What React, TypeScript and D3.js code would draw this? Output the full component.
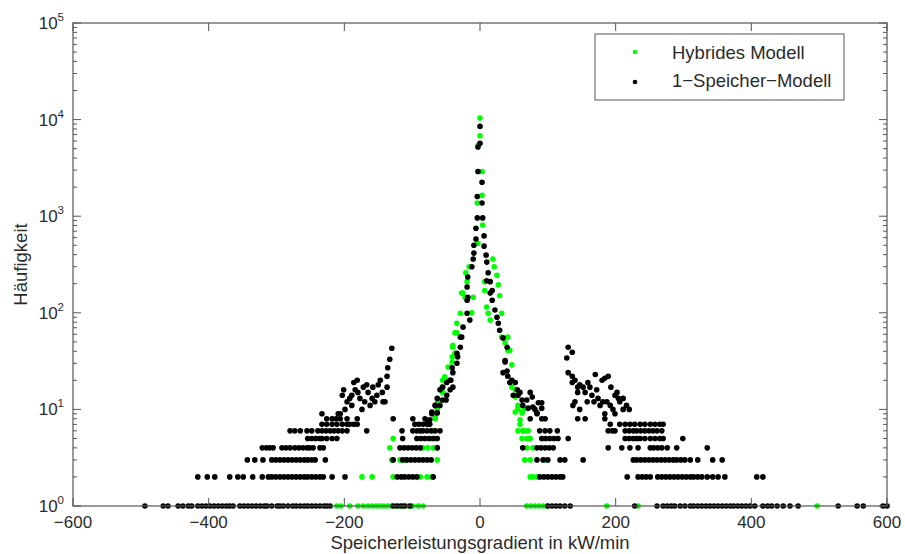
import React from 'react';
import * as d3 from 'd3';

// ---------- axis / legend data ----------
const xTickValues = [-600, -400, -200, 0, 200, 400, 600];
const yDecades = [0, 1, 2, 3, 4, 5];
const seriesNames = ['Hybrides Modell', '1\u2212Speicher\u2212Modell'];
const seriesColors = ['#00ff00', '#000000'];
const xLabel = 'Speicherleistungsgradient in kW/min';
const yLabel = 'Häufigkeit';

// ---------- 1-Speicher-Modell: x values per low count level (count = row number) ----------
const singleRow1 = [-494, -467, -460, -445, -438, -430, -425, -416, -410, -404, -398, -392, -386, -380, -374, -369, -364, -354, -348, -342, -336, -330, -324, -318, -314, -307, -299, -295, -290, -283, -276, -271, -265, -259, -254, -248, -242, -236, -230, -226, -221, -128, -122, -116, -111, -103, 100, 106, 112, 118, 125, 133, 228, 261, 270, 276, 282, 287, 295, 302, 310, 315, 321, 327, 333, 339, 345, 351, 357, 363, 369, 374, 380, 386, 392, 398, 405, 417, 424, 430, 438, 447, 457, 469, 528, 556, 565, 594, 600];
const singleRow2 = [-416, -402, -391, -369, -357, -349, -335, -321, -312, -307, -301, -295, -289, -283, -277, -271, -265, -259, -254, -248, -242, -236, -231, -218, -199, -122, -116, -111, -105, -99, -93, -69, 88, 94, 100, 106, 112, 118, 122, 217, 233, 239, 245, 251, 262, 268, 274, 280, 286, 292, 298, 304, 310, 315, 321, 327, 335, 343, 351, 361, 408, 417];
const singleRow3 = [-343, -332, -320, -307, -301, -295, -289, -283, -277, -271, -265, -259, -254, -248, -243, -228, -128, -114, -108, -102, -96, -90, -84, -78, -72, 84, 93, 100, 118, 125, 152, 226, 231, 237, 243, 249, 255, 261, 267, 273, 279, 285, 290, 296, 302, 310, 321, 343, 357];
const singleRow4 = [-321, -315, -310, -305, -292, -286, -280, -273, -267, -261, -255, -251, -246, -236, -231, -118, -112, -106, -100, -94, -88, -63, 63, 84, 90, 96, 102, 108, 189, 209, 221, 233, 251, 256, 262, 268, 276, 290, 335];
const singleRow5 = [-254, -248, -242, -236, -233, -226, -218, -211, -114, -93, -87, -81, -75, -69, -63, 91, 97, 103, 109, 115, 130, 214, 220, 226, 231, 236, 243, 251, 258, 265, 270, 299];
const singleRow6 = [-280, -273, -265, -255, -248, -239, -233, -227, -221, -215, -209, -203, -196, -167, -115, -99, -93, -88, -84, -78, -72, -66, -59, 88, 96, 103, 114, 189, 195, 199, 214, 220, 226, 231, 237, 243, 249, 255, 261, 268];
const singleRow7 = [-233, -226, -218, -211, -203, -196, -192, -186, -181, -96, -90, -84, -78, -74, 192, 206, 214, 221, 228, 236, 243, 251, 258, 265, 270];
const singleRow8 = [-226, -218, -212, -206, -196, -181, -128, -99, -81, 74, 91, 96, 144, 155, 184];
const singleRow9 = [-233, -209, -206, -71, 84, 184, 199];

// ---------- 1-Speicher-Modell: central peak and side clusters [x, count] ----------
const singleCenter: [number, number][] = [
  [0, 8500], [0, 5700], [-3, 5200], [-3, 2900], [3, 2250], [-4, 1600], [3, 1370], [-4, 960], [4, 960],
  [-6, 750], [6, 625], [-6, 580], [-9, 500], [6, 490], [-9, 415], [9, 395], [-10, 360], [10, 335],
  [-12, 300], [12, 260], [-18, 235], [10, 215], [15, 210], [-19, 185], [18, 170], [15, 160], [-18, 145],
  [-19, 135], [18, 135], [22, 107], [-19, 99], [25, 90], [-15, 84], [27, 78], [-25, 71], [29, 66],
  [-27, 56], [34, 55], [-29, 44], [40, 44], [-34, 38], [37, 32], [-34, 30], [40, 25], [-40, 24],
  [41, 22], [-43, 20], [47, 20], [-49, 19], [52, 19], [-40, 17], [-44, 16], [55, 16], [-59, 16],
  [49, 14], [-49, 14], [59, 15], [-55, 12.5], [62, 12.5], [-59, 11], [63, 11], [-66, 11], [69, 12.5],
  [-63, 9.2], [71, 10.3], [-71, 9.4], [77, 13.4], [-74, 7.8], [78, 10.6], [-78, 7.2], [91, 11.7],
  [84, 9.2], [-41, 27], [-33, 35], [-29, 56], [-63, 13], [-55, 17], [-44, 20], [-66, 11], [37, 31],
  [34, 24], [44, 19], [74, 15], [81, 10], [86, 11.7], [91, 10.3], [56, 14], [-50, 12.5],
];
const singleLeftCluster: [number, number][] = [
  [-203, 14], [-201, 16], [-199, 10], [-196, 12], [-192, 13], [-189, 11], [-189, 14], [-186, 19],
  [-184, 16], [-181, 20], [-180, 15], [-177, 13], [-174, 10], [-172, 17], [-170, 12], [-167, 18],
  [-165, 15], [-162, 11], [-159, 13], [-158, 17], [-155, 12], [-152, 14], [-150, 18], [-147, 20],
  [-144, 15], [-143, 12], [-140, 12], [-137, 17], [-137, 22], [-136, 27], [-133, 33], [-130, 43],
];
const singleRightCluster: [number, number][] = [
  [128, 34], [130, 44], [136, 39], [130, 24], [136, 22], [140, 20], [136, 19], [144, 17], [144, 15],
  [147, 18], [152, 17], [155, 15], [159, 19], [162, 17], [165, 14], [170, 23], [172, 16], [174, 13],
  [177, 11], [180, 20], [184, 21], [189, 22], [181, 12], [187, 12], [192, 11], [196, 10], [202, 15],
  [204, 13], [206, 12], [211, 13], [211, 10], [140, 12], [137, 11], [147, 10], [158, 12], [168, 12],
  [199, 14], [193, 17], [216, 11], [220, 10],
];

// ---------- Hybrides Modell ----------
const hybridRow1 = [-211, -205, -192, -180, -172, -165, -159, -153, -147, -142, -136, -130, -124, -118, -112, -106, -99, -91, -84, 69, 75, 81, 87, 93, 99, 187, 233, 497];
const hybridRow2 = [-174, -159, -128, -88, -78, -71, 74, 78, 84];
const hybridRow3 = [-130, -118, -110, -63, 66, 74, 96];
const hybridRow4 = [-133, -84, -77, -69, -63, 69, 78];
const hybridRow5 = [-128, -71, -66, 62, 69, 74, 92];
const hybridRow6 = [-69, 56, 63, 66, 71];
const hybridCenter: [number, number][] = [
  [0, 10400], [0, 6800], [-3, 5400], [3, 2900], [3, 1650], [-4, 1370], [4, 810], [-3, 525],
  [19, 360], [-16, 300], [21, 300], [-21, 260], [25, 245], [-19, 210], [7, 210], [27, 195],
  [-25, 160], [29, 150], [-10, 145], [-27, 160], [-22, 145], [7, 170], [10, 115], [12, 99],
  [15, 84], [32, 99], [-12, 100], [-29, 99], [-34, 78], [-37, 62], [-34, 62], [-40, 46], [-40, 44],
  [-37, 38], [-41, 35], [-41, 31], [-47, 27.5], [-52, 21.7], [-47, 20], [-55, 20], [-56, 17],
  [-55, 15], [-60, 12.5], [-62, 12], [-63, 10], [-66, 8.3], [-66, 8], [32, 56], [37, 49], [41, 56],
  [41, 41], [44, 41], [47, 29], [47, 17], [52, 16], [52, 13.4], [55, 14], [56, 11], [56, 10.3],
  [52, 9.4], [62, 9.4], [66, 10.3], [59, 7.8], [62, 9.2], [59, 7],
];

const toPoints = (rows: number[][]): [number, number][] =>
  rows.flatMap((xs, i) => xs.map((x) => [x, i + 1] as [number, number]));

const hybridPoints: [number, number][] = [
  ...toPoints([hybridRow1, hybridRow2, hybridRow3, hybridRow4, hybridRow5, hybridRow6]),
  ...hybridCenter,
];
const singlePoints: [number, number][] = [
  ...toPoints([singleRow1, singleRow2, singleRow3, singleRow4, singleRow5, singleRow6, singleRow7, singleRow8, singleRow9]),
  ...singleCenter,
  ...singleLeftCluster,
  ...singleRightCluster,
];

const W = 905;
const H = 554;
const L = 73;
const R = 887;
const T = 23;
const B = 506;
const FONT = '"Liberation Sans", Arial, Helvetica, sans-serif';
const AXIS = '#555';
const TEXT = '#2b2b2b';

export default function App() {
  const x = d3.scaleLinear().domain([-600, 600]).range([L, R]);
  const y = d3.scaleLog().domain([1, 1e5]).range([B, T]);

  const minor: number[] = [];
  yDecades.slice(0, -1).forEach((d) => {
    [2, 3, 4, 5, 6, 7, 8, 9].forEach((m) => minor.push(m * Math.pow(10, d)));
  });

  const major = 8;
  const minorLen = 4;

  return (
    <svg width={W} height={H} style={{ position: 'absolute', left: 0, top: 0, background: '#fff' }} fontFamily={FONT}>
      <rect x={0} y={0} width={W} height={H} fill="#fff" />
      {/* points */}
      <g>
        {hybridPoints.map(([px, c], i) => (
          <circle key={'h' + i} cx={x(px)} cy={y(c)} r={2.8} fill={seriesColors[0]} />
        ))}
        {singlePoints.map(([px, c], i) => (
          <circle key={'s' + i} cx={x(px)} cy={y(c)} r={2.8} fill={seriesColors[1]} />
        ))}
      </g>
      {/* axes box */}
      <rect x={L} y={T} width={R - L} height={B - T} fill="none" stroke={AXIS} strokeWidth={1.2} />
      {/* x ticks */}
      {xTickValues.map((v) => (
        <g key={'xt' + v}>
          <line x1={x(v)} x2={x(v)} y1={B} y2={B - major} stroke={AXIS} />
          <line x1={x(v)} x2={x(v)} y1={T} y2={T + major} stroke={AXIS} />
          <text x={x(v)} y={528} textAnchor="middle" fontSize={17} fill={TEXT}>
            {v < 0 ? '\u2212' + Math.abs(v) : String(v)}
          </text>
        </g>
      ))}
      {/* y ticks */}
      {yDecades.map((d) => {
        const yy = y(Math.pow(10, d));
        return (
          <g key={'yt' + d}>
            <line x1={L} x2={L + major} y1={yy} y2={yy} stroke={AXIS} />
            <line x1={R} x2={R - major} y1={yy} y2={yy} stroke={AXIS} />
            <text x={64} y={yy + 6} textAnchor="end" fontSize={17} fill={TEXT}>
              10
              <tspan fontSize={11.5} dy={-8}>{String(d)}</tspan>
            </text>
          </g>
        );
      })}
      {minor.map((v, i) => (
        <g key={'mt' + i}>
          <line x1={L} x2={L + minorLen} y1={y(v)} y2={y(v)} stroke={AXIS} />
          <line x1={R} x2={R - minorLen} y1={y(v)} y2={y(v)} stroke={AXIS} />
        </g>
      ))}
      {/* axis labels */}
      <text x={(L + R) / 2} y={549} textAnchor="middle" fontSize={18.5} fill={TEXT}>
        {xLabel}
      </text>
      <text transform={`translate(27,${(T + B) / 2}) rotate(-90)`} textAnchor="middle" fontSize={18.5} fill={TEXT}>
        {yLabel}
      </text>
      {/* legend */}
      <rect x={595} y={34} width={249} height={66} fill="#fff" stroke={AXIS} strokeWidth={1} />
      {seriesNames.map((name, i) => (
        <g key={'lg' + i}>
          <circle cx={635} cy={52 + i * 30} r={2.3} fill={seriesColors[i]} />
          <text x={672} y={59 + i * 28} fontSize={18.5} fill={TEXT}>
            {name}
          </text>
        </g>
      ))}
    </svg>
  );
}
